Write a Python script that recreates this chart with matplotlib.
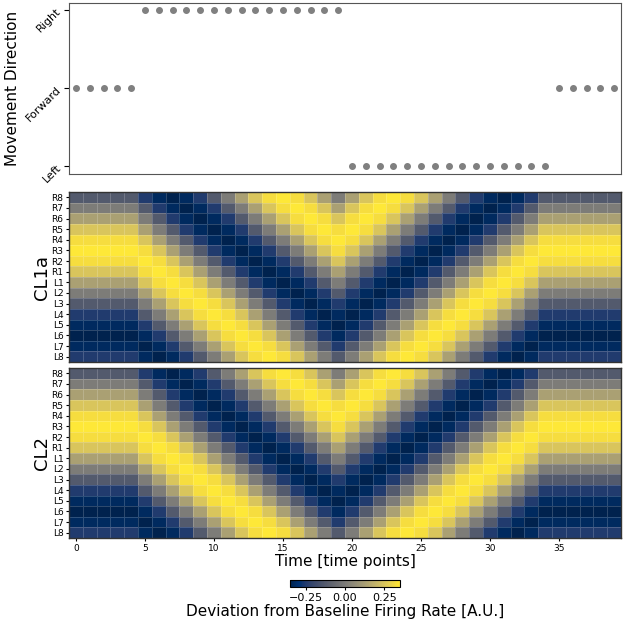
import numpy as np
import matplotlib
matplotlib.use('Agg')
import matplotlib.pyplot as plt

# Movement direction at each time point (0 = Left, 1 = Forward, 2 = Right)
tiempo = np.arange(40)
direccion = [1] * 5 + [2] * 15 + [0] * 15 + [1] * 5
nombres_dir = ['Left', 'Forward', 'Right']

# Firing-rate levels (level index -> value)
niveles = [0.35, 0.32, 0.25, 0.13, 0.0, -0.13, -0.25, -0.32, -0.35]

neuronas = ['R8', 'R7', 'R6', 'R5', 'R4', 'R3', 'R2', 'R1',
            'L1', 'L2', 'L3', 'L4', 'L5', 'L6', 'L7', 'L8']

# one string per neuron, one digit (level index) per time point
cl1a_filas = [
    "55555678765432101234321012345678765" + "55555",
    "44444567876543210123210123456787654" + "44444",
    "33333456787654321012101234567876543" + "33333",
    "22222345678765432101012345678765432" + "22222",
    "11111234567876543210123456787654321" + "11111",
    "00000123456787654321234567876543210" + "00000",
    "11111012345678765432345678765432101" + "11111",
    "22222101234567876543456787654321012" + "22222",
    "33333210123456787654567876543210123" + "33333",
    "44444321012345678765678765432101234" + "44444",
    "55555432101234567876787654321012345" + "55555",
    "66666543210123456787876543210123456" + "66666",
    "77777654321012345678765432101234567" + "77777",
    "88888765432101234567654321012345678" + "88888",
    "77777876543210123456543210123456787" + "77777",
    "66666787654321012345432101234567876" + "66666",
]
cl2_filas = [
    "55555678765432101234321012345678765" + "55555",
    "44444567876543210123210123456787654" + "44444",
    "33333456787654321012101234567876543" + "33333",
    "22222345678765432101012345678765432" + "22222",
    "11111234567876543210123456787654321" + "11111",
    "00000123456787654321234567876543210" + "00000",
    "11111012345678765432345678765432101" + "11111",
    "22222101234567876543456787654321012" + "22222",
    "33333210123456787654567876543210123" + "33333",
    "44444321012345678765678765432101234" + "44444",
    "55555432101234567876787654321012345" + "55555",
    "66666543210123456787876543210123456" + "66666",
    "77777654321012345678765432101234567" + "77777",
    "88888765432101234567654321012345678" + "88888",
    "77777876543210123456543210123456787" + "77777",
    "66666787654321012345432101234567876" + "66666",
]


def a_matriz(filas):
    return np.array([[niveles[int(c)] for c in fila] for fila in filas])


cl1a = a_matriz(cl1a_filas)
cl2 = a_matriz(cl2_filas)
vmin, vmax = min(cl1a.min(), cl2.min()), max(cl1a.max(), cl2.max())

W, H = 624, 626
fig = plt.figure(figsize=(W / 100, H / 100), dpi=100)


def caja(x0, y0, x1, y1):
    # pixel box (top-left origin) -> figure fraction
    return [x0 / W, 1 - y1 / H, (x1 - x0) / W, (y1 - y0) / H]


ax_dir = fig.add_axes(caja(69, 3, 621, 174))
ax1 = fig.add_axes(caja(69, 192, 621, 362))
ax2 = fig.add_axes(caja(69, 368, 621, 538))
cax = fig.add_axes(caja(290, 580, 400, 587))

# Movement direction
ax_dir.scatter(tiempo, direccion, s=16, color='gray')
ax_dir.set_xlim(-0.5, 39.5)
ax_dir.set_ylim(-0.1, 2.09)
ax_dir.set_yticks([0, 1, 2])
ax_dir.set_yticklabels(nombres_dir, rotation=45, fontsize=8, va='center',
                       ha='right', rotation_mode='anchor')
ax_dir.set_xticks([])
ax_dir.set_ylabel('Movement Direction', fontsize=11, labelpad=3)
for s in ax_dir.spines.values():
    s.set_color('#555555')

# Heatmaps
for ax, datos, nombre in [(ax1, cl1a, 'CL1a'), (ax2, cl2, 'CL2')]:
    mesh = ax.pcolormesh(np.arange(41) - 0.5, np.arange(17) - 0.5, datos,
                         cmap='cividis', vmin=vmin, vmax=vmax,
                         edgecolors=(1, 1, 1, 0.18), linewidth=0.4)
    ax.set_xlim(-0.5, 39.5)
    ax.set_ylim(15.5, -0.5)
    ax.set_yticks(range(16))
    ax.set_yticklabels(neuronas, fontsize=6.5)
    ax.set_ylabel(nombre, fontsize=13, labelpad=0)
    ax.tick_params(length=2.5, pad=1.5)
    for s in ax.spines.values():
        s.set_color('#333333')
        s.set_linewidth(1.0)

ax1.set_xticks([])
ax2.set_xticks(range(0, 40, 5))
ax2.tick_params(axis='x', labelsize=6.5)
ax2.set_xlabel('Time [time points]', fontsize=11, labelpad=1)

cb = fig.colorbar(mesh, cax=cax, orientation='horizontal')
cb.set_ticks([-0.25, 0.0, 0.25])
cb.ax.tick_params(labelsize=8, length=2.5, pad=1.5)
cb.set_label('Deviation from Baseline Firing Rate [A.U.]', fontsize=11, labelpad=1)
cb.outline.set_linewidth(0.8)

fig.savefig('out.png', dpi=100)
